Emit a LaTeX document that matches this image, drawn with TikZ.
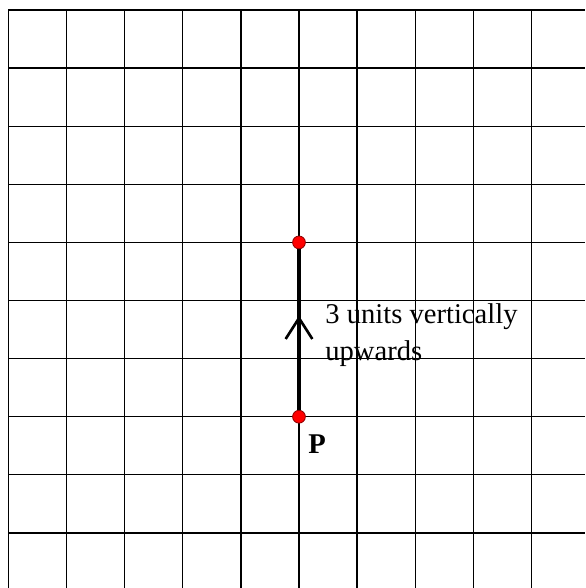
\documentclass[tikz,border=0pt]{standalone}
\usepackage{fontspec}
\setmainfont{Liberation Serif}
\usetikzlibrary{decorations.markings,arrows.meta}
\pgfdeclarelayer{background}
\pgfsetlayers{background,main}

\begin{document}
\begin{tikzpicture}[font=\fontsize{14}{18}\selectfont]
\useasboundingbox (-0.146,-9.948) rectangle (9.923,0.172);
\draw[line width=0.65pt, step=1] (0,-9.948) grid (9.923,0);

\node[inner sep=0pt, minimum size=0.22cm, circle, draw=red!55!black, fill=red] (P) at (5,-7) {};
\node[inner sep=0pt, minimum size=0.22cm, circle, draw=red!55!black, fill=red] (Q) at (5,-4) {};

\begin{pgfonlayer}{background}
\path[draw, black, line width=1.5pt, decoration={markings, mark=at position 0.58 with {\arrow{Straight Barb[length=0.36cm, width=0.46cm, line width=1.3pt]}}}, postaction={decorate}] (P.center) -- (Q.center);
\end{pgfonlayer}

\node[anchor=base west, inner sep=0pt, align=left] (lbl) at (5.447,-6.024) {3 units vertically\\upwards};
\node[anchor=base west, inner sep=0pt, font=\fontsize{14}{18}\selectfont\bfseries] (Plbl) at (5.155,-7.625) {P};
\end{tikzpicture}
\end{document}
